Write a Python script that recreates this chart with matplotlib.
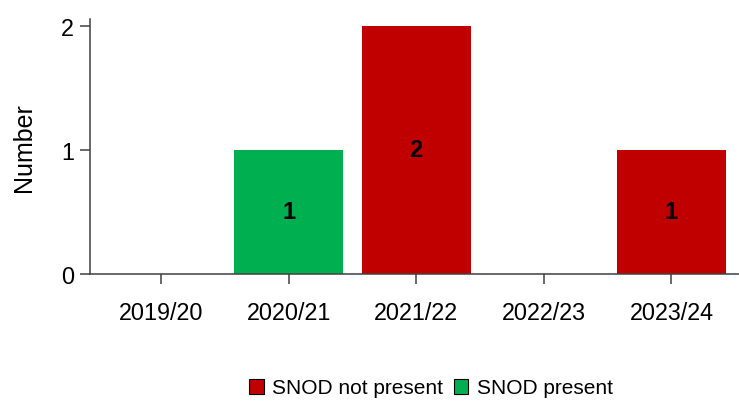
import matplotlib
matplotlib.use("Agg")
import matplotlib.pyplot as plt
import numpy as np

categories = ["2019/20", "2020/21", "2021/22", "2022/23", "2023/24"]
not_present = [0, 0, 2, 0, 1]
present = [0, 1, 0, 0, 0]
series_names = ["SNOD not present", "SNOD present"]
colors = ["#C00000", "#00B050"]
yticks = [0, 1, 2]

plt.rcParams['font.family'] = ['Liberation Sans', 'DejaVu Sans']

W, H = 739, 402
fig = plt.figure(figsize=(W/100, H/100), dpi=100)
ax = fig.add_axes([90/W, (H-275)/H, (W-90)/W, (275-20)/H])

x = np.arange(len(categories))
width = 0.855
bottom = np.zeros(len(categories))
for vals, name, col in zip([not_present, present], series_names, colors):
    vals = np.array(vals, dtype=float)
    ax.bar(x, vals, width, bottom=bottom, color=col, label=name)
    for xi, v, bt in zip(x, vals, bottom):
        if v > 0:
            ax.text(xi, bt + v/2, f"{int(v)}", ha='center', va='center',
                    fontsize=17, fontweight='bold', color='black')
    bottom += vals

ax.set_xlim(-0.557, 4.53)
ax.set_ylim(0, 2.056)
ax.set_xticks(x)
ax.set_xticklabels(categories, fontsize=16.8)
ax.set_yticks(yticks)
ax.set_yticklabels([str(t) for t in yticks], fontsize=16.8)
ax.set_ylabel("Number", fontsize=18, labelpad=18)

for s in ['top', 'right']:
    ax.spines[s].set_visible(False)
for s in ['left', 'bottom']:
    ax.spines[s].set_color('#404040')
    ax.spines[s].set_linewidth(1.1)
ax.tick_params(axis='both', colors='#404040', length=7.5, width=1.1, labelcolor='black')
ax.tick_params(axis='x', pad=12)
ax.tick_params(axis='y', pad=4)

from matplotlib.patches import Patch
leg_handles = [Patch(facecolor=c, edgecolor='black', linewidth=0.8) for c in colors]
fig.legend(leg_handles, series_names, loc='center', bbox_to_anchor=(431/W, 1-389/H),
           ncol=2, frameon=False, fontsize=15, handlelength=0.7, handleheight=0.7,
           handletextpad=0.4, columnspacing=0.5)

fig.savefig("out.png", dpi=100)
